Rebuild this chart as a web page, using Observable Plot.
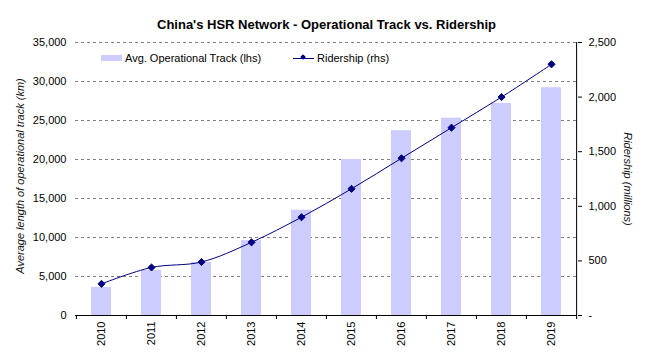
<!DOCTYPE html>
<html>
<head>
<meta charset="utf-8">
<script src="https://cdn.jsdelivr.net/npm/d3@7"></script>
<script src="https://cdn.jsdelivr.net/npm/@observablehq/plot@0.6"></script>
<style>
  body { margin: 0; background: #fff; font-family: "Liberation Sans", Arial, sans-serif; }
  #wrap { position: relative; width: 652px; height: 364px; }
  .lg { position: absolute; font-size: 11px; color: #000; line-height: 12px; white-space: nowrap; }
</style>
</head>
<body>
<div id="wrap"></div>
<script>
const years = ["2010","2011","2012","2013","2014","2015","2016","2017","2018","2019"];
const trackKm = [3600, 5800, 6800, 9600, 13500, 20000, 23700, 25300, 27200, 29200];
const ridership = [290, 440, 490, 670, 900, 1160, 1440, 1720, 2000, 2300];
const leftTicks = [0, 5000, 10000, 15000, 20000, 25000, 30000, 35000];
const rightTicks = [0, 500, 1000, 1500, 2000, 2500];
const title = "China's HSR Network - Operational Track vs. Ridership";
const leftLabel = "Average length of operational track (km)";
const rightLabel = "Ridership (millions)";
const legendBar = "Avg. Operational Track (lhs)";
const legendLine = "Ridership (rhs)";

const leftMax = leftTicks[leftTicks.length - 1];
const rightMax = rightTicks[rightTicks.length - 1];
const K = leftMax / rightMax;

const rows = years.map((y, i) => ({year: y, km: trackKm[i], riders: ridership[i]}));

const W = 652, H = 364, ML = 75, MR = 75, MT = 42, MB = 49;
const half = (W - ML - MR) / years.length / 2;
const fmt = d3.format(",");

const chart = Plot.plot({
  width: W, height: H,
  marginLeft: ML, marginRight: MR, marginTop: MT, marginBottom: MB,
  style: {fontFamily: "'Liberation Sans', Arial, sans-serif", fontSize: "11px", color: "#000", background: "#fff"},
  x: {type: "band", domain: years, paddingInner: 0.6, paddingOuter: 0.3},
  y: {domain: [0, leftMax], nice: false},
  marks: [
    Plot.gridY(leftTicks.filter(d => d > 0), {stroke: "#808080", strokeOpacity: 1, strokeDasharray: "3,3"}),
    Plot.barY(rows, {x: "year", y: "km", fill: "#CCCCFF"}),
    Plot.ruleY([0], {stroke: "#000", strokeWidth: 1}),
    Plot.ruleX(years, {x: d => d, dx: -half, y1: 0, y2: 0, insetBottom: -4, stroke: "#000"}),
    Plot.ruleX([years[years.length - 1]], {x: d => d, dx: half, y1: 0, y2: 0, insetBottom: -4, stroke: "#000"}),
    Plot.ruleX([years[years.length - 1]], {x: d => d, dx: half, y1: 0, y2: leftMax, stroke: "#000"}),
    Plot.line(rows, {x: "year", y: d => d.riders * K, stroke: "#000080", strokeWidth: 1, curve: "catmull-rom"}),
    Plot.dot(rows, {x: "year", y: d => d.riders * K, symbol: "diamond2", r: 3.2, fill: "#000080", stroke: "#000080", strokeWidth: 1}),
    Plot.axisX({tickSize: 0, tickPadding: 6, tickRotate: -90, label: null, fontSize: 11}),
    Plot.axisY({anchor: "left", ticks: leftTicks, tickSize: 0, tickPadding: 9, tickFormat: fmt, label: null, fontSize: 11}),
    Plot.axisY({anchor: "right", ticks: rightTicks.map(d => d * K), tickSize: 4, tickPadding: 7,
      tickFormat: d => d === 0 ? "-" : fmt(Math.round(d / K)), label: null, fontSize: 11}),
    Plot.text([title], {text: d => d, frameAnchor: "top", dy: -18, fontWeight: "bold", fontSize: 13, lineAnchor: "middle"}),
    Plot.text([leftLabel], {text: d => d, frameAnchor: "left", dx: -55, dy: -3, rotate: -90, textAnchor: "middle", lineAnchor: "middle", fontStyle: "italic", fontSize: 11, fill: "#111"}),
    Plot.text([rightLabel], {text: d => d, frameAnchor: "right", dx: 50, rotate: 90, textAnchor: "middle", lineAnchor: "middle", fontStyle: "italic", fontSize: 11, fill: "#111"})
  ]
});

const wrap = document.getElementById("wrap");
wrap.appendChild(chart);

function addDiv(style, text) {
  const d = document.createElement("div");
  d.className = "lg";
  Object.assign(d.style, style);
  if (text) d.textContent = text;
  wrap.appendChild(d);
  return d;
}
addDiv({left: "101px", top: "55px", width: "21px", height: "6px", background: "#CCCCFF"});
addDiv({left: "125px", top: "52px"}, legendBar);
addDiv({left: "293px", top: "57.5px", width: "21px", height: "1px", background: "#000080"});
addDiv({left: "300.5px", top: "55px", width: "4px", height: "4px", background: "#000080", transform: "rotate(45deg)"});
addDiv({left: "317px", top: "52px"}, legendLine);
</script>
</body>
</html>
